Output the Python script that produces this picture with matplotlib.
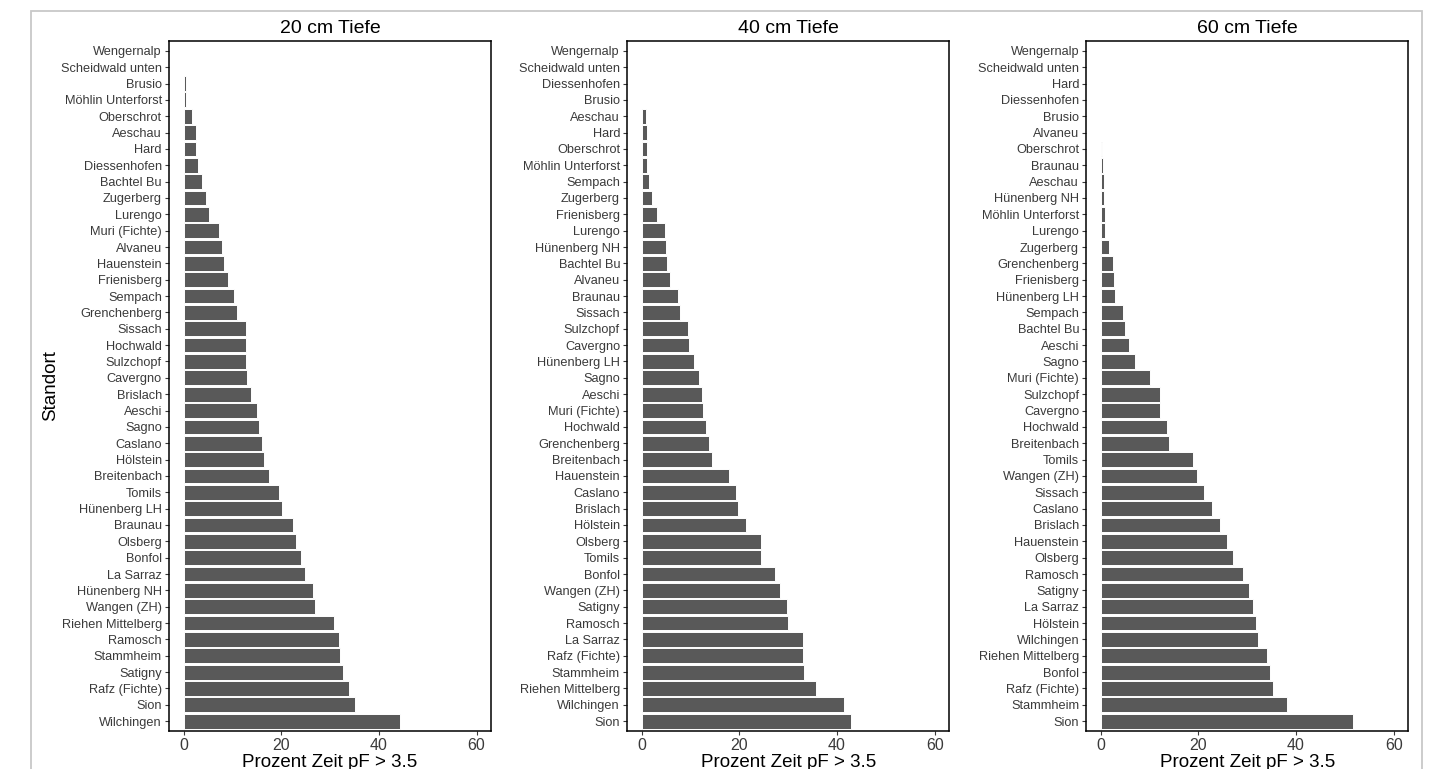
import matplotlib
matplotlib.use("Agg")
from matplotlib import pyplot as plt
from matplotlib.patches import Rectangle

plt.rcParams['font.family'] = ['Liberation Sans', 'DejaVu Sans']

# Standorte von oben nach unten, Werte in Prozent
sites_20 = ["Wengernalp", "Scheidwald unten", "Brusio", "Möhlin Unterforst", "Oberschrot",
            "Aeschau", "Hard", "Diessenhofen", "Bachtel Bu", "Zugerberg", "Lurengo",
            "Muri (Fichte)", "Alvaneu", "Hauenstein", "Frienisberg", "Sempach",
            "Grenchenberg", "Sissach", "Hochwald", "Sulzchopf", "Cavergno", "Brislach",
            "Aeschi", "Sagno", "Caslano", "Hölstein", "Breitenbach", "Tomils",
            "Hünenberg LH", "Braunau", "Olsberg", "Bonfol", "La Sarraz", "Hünenberg NH",
            "Wangen (ZH)", "Riehen Mittelberg", "Ramosch", "Stammheim", "Satigny",
            "Rafz (Fichte)", "Sion", "Wilchingen"]
values_20 = [0, 0, 0.5, 0.5, 1.7, 2.5, 2.5, 2.9, 3.8, 4.6, 5.2, 7.2, 7.8, 8.3, 9.1, 10.3,
             10.9, 12.8, 12.8, 12.8, 13.0, 13.8, 15.0, 15.4, 16.0, 16.5, 17.5, 19.5,
             20.1, 22.4, 23.0, 24.0, 24.9, 26.5, 26.9, 30.8, 31.8, 32.0, 32.6, 33.9,
             35.1, 44.3]

sites_40 = ["Wengernalp", "Scheidwald unten", "Diessenhofen", "Brusio", "Aeschau", "Hard",
            "Oberschrot", "Möhlin Unterforst", "Sempach", "Zugerberg", "Frienisberg",
            "Lurengo", "Hünenberg NH", "Bachtel Bu", "Alvaneu", "Braunau", "Sissach",
            "Sulzchopf", "Cavergno", "Hünenberg LH", "Sagno", "Aeschi", "Muri (Fichte)",
            "Hochwald", "Grenchenberg", "Breitenbach", "Hauenstein", "Caslano",
            "Brislach", "Hölstein", "Olsberg", "Tomils", "Bonfol", "Wangen (ZH)",
            "Satigny", "Ramosch", "La Sarraz", "Rafz (Fichte)", "Stammheim",
            "Riehen Mittelberg", "Wilchingen", "Sion"]
values_40 = [0, 0, 0, 0, 0.8, 1.0, 1.0, 1.2, 1.6, 2.2, 3.1, 4.7, 4.9, 5.1, 5.9, 7.4, 7.8,
             9.4, 9.8, 10.8, 11.7, 12.3, 12.5, 13.1, 13.7, 14.5, 17.8, 19.4, 19.8, 21.3,
             24.5, 24.5, 27.4, 28.4, 29.7, 29.9, 33.1, 33.1, 33.3, 35.8, 41.5, 42.9]

sites_60 = ["Wengernalp", "Scheidwald unten", "Hard", "Diessenhofen", "Brusio", "Alvaneu",
            "Oberschrot", "Braunau", "Aeschau", "Hünenberg NH", "Möhlin Unterforst",
            "Lurengo", "Zugerberg", "Grenchenberg", "Frienisberg", "Hünenberg LH",
            "Sempach", "Bachtel Bu", "Aeschi", "Sagno", "Muri (Fichte)", "Sulzchopf",
            "Cavergno", "Hochwald", "Breitenbach", "Tomils", "Wangen (ZH)", "Sissach",
            "Caslano", "Brislach", "Hauenstein", "Olsberg", "Ramosch", "Satigny",
            "La Sarraz", "Hölstein", "Wilchingen", "Riehen Mittelberg", "Bonfol",
            "Rafz (Fichte)", "Stammheim", "Sion"]
values_60 = [0, 0, 0, 0, 0, 0, 0.2, 0.4, 0.6, 0.6, 0.8, 0.8, 1.8, 2.5, 2.7, 2.9, 4.5, 4.9,
             5.9, 7.0, 10.0, 12.1, 12.1, 13.5, 13.9, 18.9, 19.7, 21.1, 22.8, 24.4, 25.8,
             27.1, 29.1, 30.3, 31.2, 31.8, 32.2, 34.0, 34.7, 35.3, 38.1, 51.7]

titles = ["20 cm Tiefe", "40 cm Tiefe", "60 cm Tiefe"]
x_ticks = [0, 20, 40, 60]

fig = plt.figure(figsize=(14.39, 7.69), dpi=100)

# grauer Rahmen ums Bild
fig.patches.append(Rectangle((0.0215, -0.05), 0.967, 1.0357, transform=fig.transFigure,
                             fill=False, edgecolor='#c8c8c8', linewidth=1.3))

lefts = [0.1174, 0.4357, 0.7547]
data = [(sites_20, values_20), (sites_40, values_40), (sites_60, values_60)]

for k in range(3):
    sites, vals = data[k]
    ax = fig.add_axes([lefts[k], 0.0494, 0.2240, 0.8973])
    pos = list(range(len(sites)))[::-1]
    ax.barh(pos, vals, height=0.9, color='#595959', edgecolor='white', linewidth=0.7)
    ax.set_yticks(pos)
    ax.set_yticklabels(sites)
    ax.set_ylim(-0.6, len(sites) - 0.4)
    ax.set_xlim(-3, 63)
    ax.set_xticks(x_ticks)
    ax.tick_params(axis='both', colors='#3a3a3a', labelsize=9.2, length=3, width=0.8,
                   direction='out', pad=2)
    ax.tick_params(axis='x', labelsize=11.5)
    for s in ax.spines.values():
        s.set_linewidth(1.1)
        s.set_color('black')
    ax.set_title(titles[k], fontsize=14, pad=6)
    ax.set_xlabel("Prozent Zeit pF > 3.5", fontsize=13.5, labelpad=1)
    if k == 0:
        ax.set_ylabel("Standort", fontsize=13.5)
        ax.yaxis.set_label_coords(-0.342, 0.5)

plt.savefig("out.png", dpi=100)
